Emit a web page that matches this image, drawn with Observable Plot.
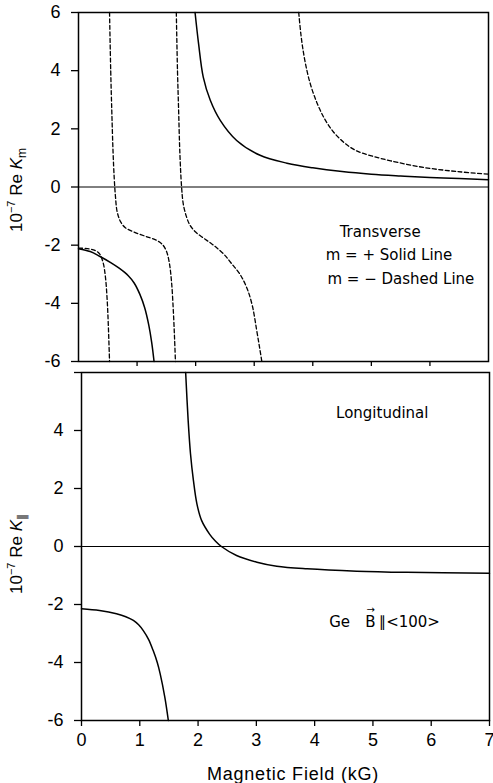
<!DOCTYPE html>
<html><head><meta charset="utf-8">
<script src="https://cdn.jsdelivr.net/npm/d3@7"></script>
<script src="https://cdn.jsdelivr.net/npm/@observablehq/plot@0.6"></script>
<style>
body{margin:0;background:#fff;}
#chart{width:493px;height:783px;position:relative;background:#fff;}
#chart svg{display:block;}
</style></head><body><div id="chart"></div>
<script>
// ---------- data ----------
const xTicks = [0, 1, 2, 3, 4, 5, 6, 7];
const yTicks = [-6, -4, -2, 0, 2, 4, 6];
const xDomain = [0, 7];
const yDomain = [-6, 6];

// Transverse, m = + (solid)
const transSolidLow = [[0,-2.12],[0.2,-2.22],[0.36,-2.38],[0.55,-2.6],[0.7,-2.8],[0.85,-3.05],[0.95,-3.3],[1.05,-3.7],[1.13,-4.15],[1.2,-4.75],[1.25,-5.35],[1.29,-6]];
const transSolidHigh = [[1.99,6],[2.05,4.93],[2.13,3.78],[2.25,2.98],[2.42,2.29],[2.7,1.6],[3.1,1.09],[3.56,0.82],[4.0,0.66],[4.5,0.53],[5.0,0.44],[5.5,0.38],[6.0,0.33],[6.5,0.29],[7,0.25]];
// Transverse, m = - (dashed)
const transDashA = [[0,-2.1],[0.15,-2.12],[0.28,-2.18],[0.36,-2.3],[0.42,-2.6],[0.46,-3.1],[0.49,-3.9],[0.51,-4.8],[0.53,-6]];
const transDashB = [[0.53,6],[0.55,4],[0.57,2.5],[0.59,1.2],[0.61,0.3],[0.63,-0.3],[0.66,-0.85],[0.72,-1.2],[0.8,-1.4],[0.95,-1.55],[1.15,-1.7],[1.33,-1.83],[1.43,-1.97],[1.5,-2.2],[1.55,-2.6],[1.59,-3.3],[1.62,-4.3],[1.64,-5.2],[1.655,-6]];
const transDashC = [[1.67,6],[1.69,4],[1.71,2.6],[1.73,1.2],[1.76,0],[1.79,-0.6],[1.84,-1.0],[1.9,-1.3],[2.0,-1.55],[2.13,-1.75],[2.25,-1.92],[2.36,-2.09],[2.5,-2.35],[2.62,-2.65],[2.76,-3.01],[2.88,-3.5],[2.97,-4.1],[3.04,-4.9],[3.09,-5.5],[3.13,-6]];
const transDashD = [[3.76,6],[3.8,5.2],[3.86,4.4],[3.95,3.6],[4.07,2.9],[4.2,2.35],[4.35,1.9],[4.55,1.5],[4.75,1.24],[5.0,1.07],[5.33,0.9],[5.9,0.67],[6.47,0.53],[7,0.44]];
// Longitudinal (solid)
const longLow = [[0,-2.15],[0.31,-2.21],[0.6,-2.32],[0.76,-2.42],[0.89,-2.55],[0.98,-2.7],[1.06,-2.9],[1.15,-3.2],[1.23,-3.59],[1.3,-4.0],[1.35,-4.39],[1.43,-5.2],[1.49,-6]];
const longHigh = [[1.787,6],[1.83,4.34],[1.87,3.2],[1.92,2.28],[1.98,1.47],[2.06,0.9],[2.2,0.42],[2.3,0.18],[2.4,0.0],[2.66,-0.31],[3.01,-0.54],[3.35,-0.68],[3.87,-0.77],[4.72,-0.85],[5.58,-0.89],[7,-0.92]];

const pts = a => a.map(([x, y]) => ({x, y}));

// ---------- styles ----------
const tickFont = "Liberation Sans, Arial, sans-serif";
const noteFont = "DejaVu Sans, sans-serif";
const solid = {x: "x", y: "y", curve: "catmull-rom", stroke: "#000", strokeWidth: 1.5};
const dashed = {...solid, strokeWidth: 1.3, strokeDasharray: "4,2.5"};
const noteStyle = {fontFamily: noteFont, fontSize: 15, fill: "#000"};

const topPlot = Plot.plot({
  width: 493, height: 371,
  marginLeft: 78, marginRight: 5, marginTop: 12, marginBottom: 10,
  x: {domain: xDomain}, y: {domain: yDomain},
  style: {fontFamily: tickFont, fontSize: "18px", color: "#000", background: "#fff", overflow: "visible"},
  marks: [
    Plot.ruleY([0], {stroke: "#000", strokeWidth: 1}),
    Plot.axisY(yTicks, {tickSize: 7, tickPadding: 11, strokeWidth: 1.3, label: null, tickFormat: d => d}),
    Plot.axisX(xTicks.slice(1, -1), {tickSize: 5, strokeWidth: 1.3, label: null, tickFormat: () => ""}),
    Plot.line(pts(transSolidLow), solid),
    Plot.line(pts(transSolidHigh), solid),
    Plot.line(pts(transDashA), dashed),
    Plot.line(pts(transDashB), dashed),
    Plot.line(pts(transDashC), dashed),
    Plot.line(pts(transDashD), dashed),
    Plot.text(["Transverse"], {x: 5.15, y: -1.56, textAnchor: "middle", ...noteStyle}),
    Plot.text(["m = + Solid Line"], {x: 4.22, y: -2.36, textAnchor: "start", ...noteStyle}),
    Plot.text(["m = \u2212 Dashed Line"], {x: 4.25, y: -3.16, textAnchor: "start", ...noteStyle}),
    Plot.frame({stroke: "#000", strokeWidth: 1.5})
  ]
});

const botPlot = Plot.plot({
  width: 493, height: 412,
  marginLeft: 81, marginRight: 4, marginTop: 1, marginBottom: 63,
  x: {domain: xDomain}, y: {domain: yDomain},
  style: {fontFamily: tickFont, fontSize: "18px", color: "#000", background: "#fff", overflow: "visible"},
  marks: [
    Plot.ruleY([0], {stroke: "#000", strokeWidth: 1}),
    Plot.axisY(yTicks, {tickSize: 7, tickPadding: 11, strokeWidth: 1.3, label: null, tickFormat: d => d === 6 ? "" : d}),
    Plot.axisX(xTicks, {tickSize: 6, tickPadding: 7, strokeWidth: 1.3, label: null, tickFormat: d => d}),
    Plot.line(pts(longLow), solid),
    Plot.line(pts(longHigh), solid),
    Plot.text(["Longitudinal"], {x: 5.16, y: 4.6, textAnchor: "middle", ...noteStyle}),
    Plot.text(["Ge"], {x: 4.25, y: -2.62, textAnchor: "start", ...noteStyle}),
    Plot.text(["B\u2009\u2225<100>"], {x: 4.87, y: -2.62, textAnchor: "start", ...noteStyle}),
    Plot.text(["\u2192"], {x: 4.96, y: -2.17, textAnchor: "middle", ...noteStyle, fontSize: 10}),
    Plot.frame({stroke: "#000", strokeWidth: 1.5})
  ]
});

const chart = document.getElementById("chart");
chart.append(topPlot, botPlot);

function yLabel(svg, cx, cy, sub) {
  const t = d3.select(svg).append("text")
    .attr("transform", `translate(${cx},${cy}) rotate(-90)`)
    .attr("text-anchor", "middle")
    .attr("fill", "#000")
    .style("font-family", tickFont)
    .style("font-size", "17px");
  t.append("tspan").text("10");
  t.append("tspan").attr("dy", -7).style("font-size", "11px").text("\u22127");
  t.append("tspan").attr("dy", 7).text(" Re ");
  t.append("tspan").style("font-style", "italic").text("K");
  t.append("tspan").attr("dy", 4).style("font-size", "12px").text(sub);
}
yLabel(topPlot, 22, 190, "m");
yLabel(botPlot, 22, 183, "\u2225");

d3.select(botPlot).append("text")
  .attr("x", 293).attr("y", 409)
  .attr("text-anchor", "middle")
  .attr("fill", "#000")
  .style("font-family", tickFont)
  .style("font-size", "18px")
  .style("letter-spacing", "0.8px")
  .text("Magnetic Field (kG)");
</script></body></html>
